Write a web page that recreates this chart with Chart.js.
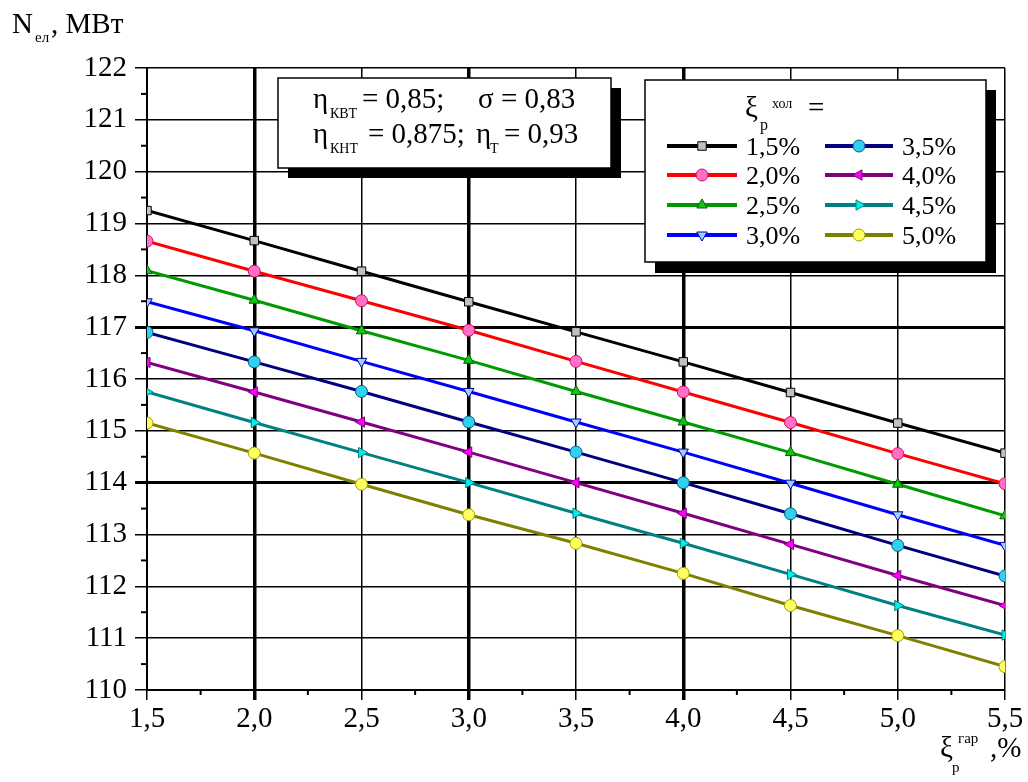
<!DOCTYPE html>
<html>
<head>
<meta charset="utf-8">
<script src="https://cdn.jsdelivr.net/npm/chart.js@4/dist/chart.umd.min.js"></script>
<style>
  html, body { margin: 0; padding: 0; background: #fff; }
  #wrap { width: 1028px; height: 782px; position: relative; }
  #probe { position: absolute; left: -9999px; top: 0; font-family: "Liberation Serif", "Times New Roman", serif; }
</style>
</head>
<body>
<div id="wrap"><canvas id="c" width="1028" height="782"></canvas></div>
<div id="probe">N 0,85 ηξσ МВт</div>
<script>
// x values (ξp гар, %)
const xVals = [1.5, 2.0, 2.5, 3.0, 3.5, 4.0, 4.5, 5.0, 5.5];
const seriesLabels = ["1,5%", "2,0%", "2,5%", "3,0%", "3,5%", "4,0%", "4,5%", "5,0%"];

// N_ел, МВт for each ξp хол
const n15 = [119.25, 118.67, 118.08, 117.49, 116.91, 116.33, 115.74, 115.15, 114.57];
const n20 = [118.66, 118.08, 117.51, 116.94, 116.34, 115.75, 115.16, 114.56, 113.98];
const n25 = [118.09, 117.52, 116.93, 116.36, 115.76, 115.17, 114.58, 113.97, 113.36];
const n30 = [117.49, 116.93, 116.34, 115.76, 115.17, 114.59, 113.99, 113.38, 112.79];
const n35 = [116.90, 116.33, 115.76, 115.17, 114.59, 114.00, 113.40, 112.79, 112.20];
const n40 = [116.32, 115.75, 115.17, 114.59, 114.00, 113.41, 112.81, 112.21, 111.63];
const n45 = [115.75, 115.16, 114.58, 114.00, 113.41, 112.83, 112.23, 111.63, 111.06];
const n50 = [115.15, 114.57, 113.97, 113.38, 112.83, 112.25, 111.63, 111.05, 110.45];
const allSeries = [n15, n20, n25, n30, n35, n40, n45, n50];

// pick the first serif face that is really installed
function pickFont(list) {
  const c = document.createElement("canvas").getContext("2d");
  const t = "mmmmwwlli0,85ηξσМВт";
  for (const f of list) {
    for (const base of ["monospace", "sans-serif"]) {
      c.font = "40px " + base;
      const a = c.measureText(t).width;
      c.font = '40px "' + f + '", ' + base;
      const b = c.measureText(t).width;
      if (Math.abs(a - b) > 0.5) return f;
    }
  }
  return null;
}

const styles = [
  { line: "#000000", fill: "#c0c0c0", edge: "#000000", shape: "rect", rot: 0 },
  { line: "#ff0000", fill: "#ff6fc8", edge: "#d01060", shape: "circle", rot: 0 },
  { line: "#009a00", fill: "#10c810", edge: "#006000", shape: "triangle", rot: 0 },
  { line: "#0000ff", fill: "#9cd0ff", edge: "#0000a0", shape: "triangle", rot: 180 },
  { line: "#000080", fill: "#30d0f0", edge: "#006080", shape: "circle", rot: 0 },
  { line: "#800080", fill: "#ff00ff", edge: "#800080", shape: "triangle", rot: -90 },
  { line: "#008080", fill: "#00f0f0", edge: "#008080", shape: "triangle", rot: 90 },
  { line: "#808000", fill: "#ffff60", edge: "#a0a000", shape: "circle", rot: 0 }
];

const fmt = v => v.toFixed(1).replace(".", ",");
let FONT = "serif";

function txt(ctx, t, x, y, size) {
  ctx.font = size + "px " + FONT;
  ctx.fillText(t, x, y);
}

function drawMarker(ctx, s, x, y) {
  ctx.save();
  ctx.fillStyle = s.fill;
  ctx.strokeStyle = s.edge;
  ctx.lineWidth = 1;
  if (Chart.helpers && Chart.helpers.drawPoint) {
    Chart.helpers.drawPoint(ctx, { pointStyle: s.shape, rotation: s.rot, radius: 6, borderWidth: 1 }, x, y);
  } else {
    ctx.beginPath(); ctx.arc(x, y, 6, 0, Math.PI * 2); ctx.fill(); ctx.stroke();
  }
  ctx.restore();
}

const decor = {
  id: "decor",
  afterDraw(chart) {
    const ctx = chart.ctx;
    const xs = chart.scales.x, ys = chart.scales.y;
    ctx.save();
    ctx.fillStyle = "#000";
    ctx.strokeStyle = "#000";
    ctx.textBaseline = "alphabetic";
    ctx.textAlign = "left";

    // minor ticks
    ctx.lineWidth = 2;
    for (let v = 110.5; v < 122; v += 1) {
      const py = ys.getPixelForValue(v);
      ctx.beginPath(); ctx.moveTo(xs.left - 6, py); ctx.lineTo(xs.left, py); ctx.stroke();
    }
    for (let v = 1.75; v < 5.5; v += 0.5) {
      const px = xs.getPixelForValue(v);
      ctx.beginPath(); ctx.moveTo(px, ys.bottom); ctx.lineTo(px, ys.bottom + 5); ctx.stroke();
    }

    // axis titles
    txt(ctx, "N", 12, 33, 29);
    txt(ctx, "ел", 35, 42, 15);
    txt(ctx, ", МВт", 51, 33, 29);

    txt(ctx, "ξ", 940, 757, 29);
    txt(ctx, "р", 952, 772, 15);
    txt(ctx, "гар", 958, 743, 15);
    txt(ctx, ",%", 990, 757, 29);

    // parameter box
    ctx.fillRect(288, 88, 333, 90);
    ctx.fillStyle = "#fff";
    ctx.fillRect(278, 78, 333, 90);
    ctx.lineWidth = 1.5;
    ctx.strokeRect(278, 78, 333, 90);
    ctx.fillStyle = "#000";
    txt(ctx, "η", 313, 108, 29);
    txt(ctx, "КВТ", 330, 118, 14);
    txt(ctx, "= 0,85;", 362, 108, 29);
    txt(ctx, "σ = 0,83", 478, 108, 29);
    txt(ctx, "η", 313, 143, 29);
    txt(ctx, "КНТ", 330, 153, 14);
    txt(ctx, "= 0,875;", 368, 143, 29);
    txt(ctx, "η", 476, 143, 29);
    txt(ctx, "Т", 490, 153, 14);
    txt(ctx, "= 0,93", 504, 143, 29);

    // legend box
    ctx.fillRect(655, 90, 341, 183);
    ctx.fillStyle = "#fff";
    ctx.fillRect(645, 80, 341, 182);
    ctx.strokeRect(645, 80, 341, 182);
    ctx.fillStyle = "#000";
    txt(ctx, "ξ", 745, 117, 29);
    txt(ctx, "р", 760, 130, 16);
    txt(ctx, "хол", 772, 108, 14);
    txt(ctx, "=", 808, 117, 29);

    const rowY = [146, 175, 205, 235];
    chart.data.datasets.forEach((ds, i) => {
      const col = i < 4 ? 0 : 1;
      const y = rowY[i % 4];
      const x0 = col === 0 ? 667 : 825;
      const x1 = col === 0 ? 737 : 893;
      ctx.strokeStyle = styles[i].line;
      ctx.lineWidth = 4;
      ctx.beginPath(); ctx.moveTo(x0, y); ctx.lineTo(x1, y); ctx.stroke();
      drawMarker(ctx, styles[i], (x0 + x1) / 2, y);
      ctx.fillStyle = "#000";
      txt(ctx, ds.label, x1 + 9, y + 9, 26);
    });
    ctx.restore();
  }
};

function build() {
  const f = pickFont(["Liberation Serif", "Times New Roman", "Tinos", "DejaVu Serif", "Noto Serif", "FreeSerif", "Times"]);
  FONT = f ? '"' + f + '", serif' : "serif";
  Chart.defaults.font.family = FONT;
  Chart.defaults.color = "#000";

  const datasets = allSeries.map((vals, i) => ({
    label: seriesLabels[i],
    data: xVals.map((x, j) => ({ x: x, y: vals[j] })),
    borderColor: styles[i].line,
    borderWidth: 3,
    backgroundColor: styles[i].fill,
    pointStyle: styles[i].shape,
    pointRotation: styles[i].rot,
    pointRadius: 6,
    pointBorderColor: styles[i].edge,
    pointBackgroundColor: styles[i].fill,
    pointBorderWidth: 1,
    tension: 0
  }));

  new Chart(document.getElementById("c"), {
    type: "line",
    data: { datasets: datasets },
    plugins: [decor],
    options: {
      responsive: false,
      animation: false,
      layout: { padding: { top: 68, right: 23, bottom: 0, left: 0 } },
      plugins: { legend: { display: false }, tooltip: { enabled: false } },
      scales: {
        x: {
          type: "linear",
          min: 1.5, max: 5.5,
          afterFit: s => { s.height = 92; },
          ticks: { stepSize: 0.5, callback: v => fmt(v), font: { size: 29 }, color: "#000", padding: 2, maxRotation: 0 },
          grid: {
            color: "#000",
            lineWidth: c => (c.tick && [2, 3, 4].includes(c.tick.value)) ? 3.5 : 1.5,
            tickWidth: c => (c.tick && [2, 3, 4].includes(c.tick.value)) ? 3.5 : 1.5,
            tickLength: 10,
            tickColor: "#000"
          },
          border: { color: "#000", width: 2 }
        },
        y: {
          type: "linear",
          min: 110, max: 122,
          afterFit: s => { s.width = 147; },
          ticks: { stepSize: 1, font: { size: 29 }, color: "#000", padding: 8 },
          grid: {
            color: "#000",
            lineWidth: c => (c.tick && [114, 117].includes(c.tick.value)) ? 3 : 1.5,
            tickWidth: c => (c.tick && [114, 117].includes(c.tick.value)) ? 3 : 1.5,
            tickLength: 12,
            tickColor: "#000"
          },
          border: { color: "#000", width: 2 }
        }
      }
    }
  });
}

const loads = document.fonts && document.fonts.load
  ? Promise.all(['29px "Liberation Serif"', '29px "DejaVu Serif"'].map(s => document.fonts.load(s, "0,85ηξ").catch(() => null)))
  : Promise.resolve();
Promise.race([loads, new Promise(r => setTimeout(r, 800))]).then(build);
</script>
</body>
</html>
